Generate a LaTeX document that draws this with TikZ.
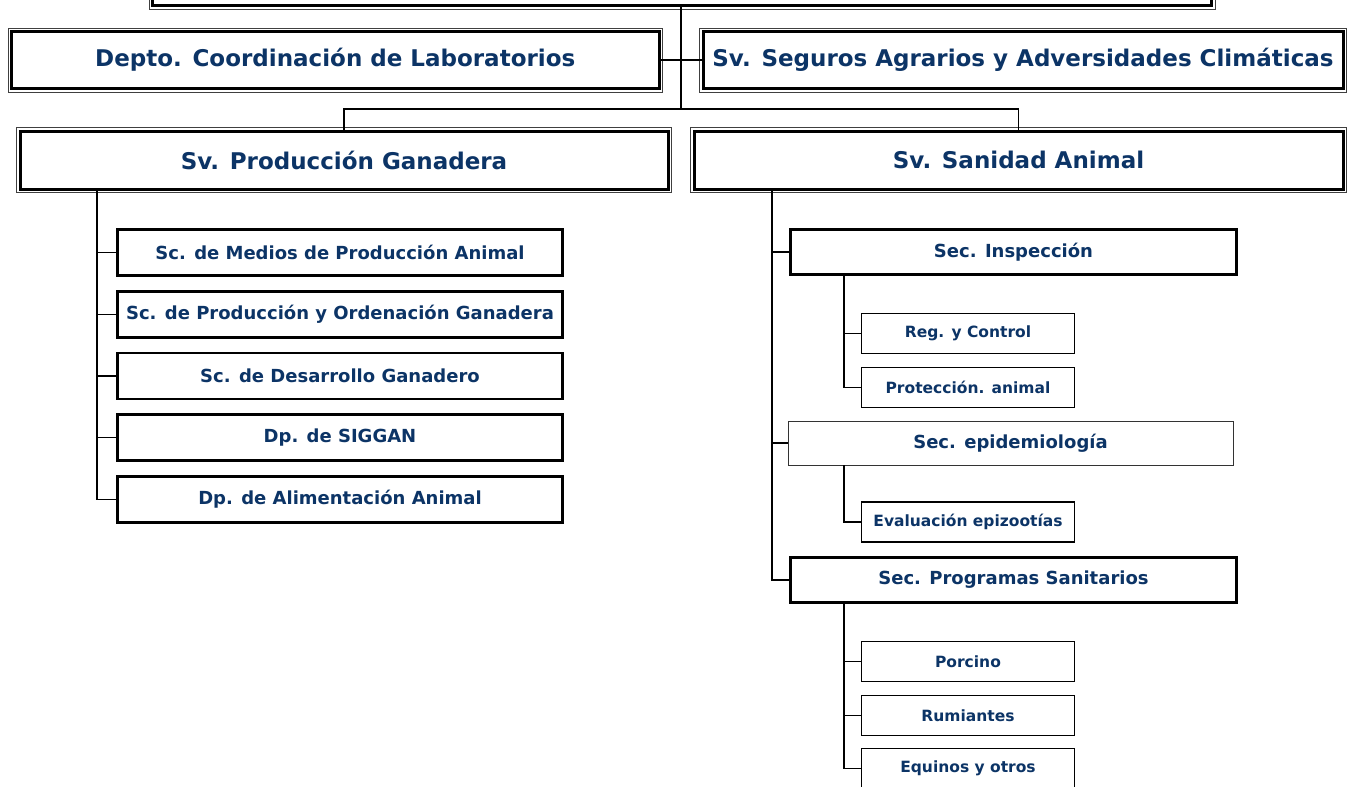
\documentclass[tikz,border=0pt]{standalone}
\usepackage{fontspec}
\setmainfont{DejaVu Sans}
\definecolor{navy}{RGB}{12,52,102}
\begin{document}
\begin{tikzpicture}[x=1pt,y=-1pt,
  base/.style={draw=black, fill=white, text=navy, font=\bfseries, inner sep=0pt, outer sep=0pt, anchor=center},
  frame/.style={append after command={\pgfextra{\draw[line width=0.8pt, black!75]
      ([xshift=-3.5pt,yshift=3.5pt]\tikzlastnode.north west) rectangle
      ([xshift=3.5pt,yshift=-3.5pt]\tikzlastnode.south east);}}},
  topbox/.style={base, line width=3pt, frame, font=\bfseries\fontsize{23}{27}\selectfont},
  midbox/.style={base, line width=2.6pt, font=\bfseries\fontsize{18}{22}\selectfont, minimum width=445pt, minimum height=46pt},
  secbox/.style={base, line width=2.6pt, font=\bfseries\fontsize{18}{22}\selectfont, minimum width=446pt, minimum height=45pt},
  secthin/.style={base, line width=0.9pt, draw=black!80, font=\bfseries\fontsize{18}{22}\selectfont, minimum width=445pt, minimum height=44pt},
  smallbox/.style={base, line width=1.5pt, font=\bfseries\fontsize{15.5}{19}\selectfont, minimum width=213pt, minimum height=40pt},
  conn/.style={draw=black, line width=1.4pt}
]
\useasboundingbox (0,0) rectangle (1353,787);
% top-level boxes
\node[topbox, minimum width=1059pt, minimum height=66pt] (top) at (682,-27.5) {};
\node[topbox, minimum width=647.5pt, minimum height=57pt] (lab) at (335.25,60) {Depto. Coordinación de Laboratorios};
\node[topbox, minimum width=640pt, minimum height=57pt] (seg) at (1023,60) {Sv. Seguros Agrarios y Adversidades Climáticas};
\node[topbox, minimum width=648pt, minimum height=58pt] (prod) at (344,160) {Sv. Producción Ganadera};
\node[topbox, minimum width=649pt, minimum height=58pt] (san) at (1018.5,160) {Sv. Sanidad Animal};
% left branch
\node[midbox] (m1) at (340,252.5) {Sc. de Medios de Producción Animal};
\node[midbox] (m2) at (340,314.5) {Sc. de Producción y Ordenación Ganadera};
\node[midbox] (m3) at (340,376) {Sc. de Desarrollo Ganadero};
\node[midbox] (m4) at (340,437.5) {Dp. de SIGGAN};
\node[midbox] (m5) at (340,499.5) {Dp. de Alimentación Animal};
% right branch
\node[secbox] (insp) at (1013.5,252) {Sec. Inspección};
\node[smallbox] (reg) at (968,333.5) {Reg. y Control};
\node[smallbox] (prot) at (968,387.5) {Protección. animal};
\node[secthin] (epi) at (1010.5,443) {Sec. epidemiología};
\node[smallbox] (eva) at (968,522) {Evaluación epizootías};
\node[secbox] (prog) at (1013.5,580) {Sec. Programas Sanitarios};
\node[smallbox] (porc) at (968,661.5) {Porcino};
\node[smallbox] (rum) at (968,715.5) {Rumiantes};
\node[smallbox] (equ) at (968,768.5) {Equinos y otros};
% coordinates
\coordinate (hub) at (681,109);
\coordinate (hubL) at (prod.north |- hub);
\coordinate (hubR) at (san.north |- hub);
\coordinate (vL) at (97,0);
\coordinate (vR) at (772,0);
\coordinate (vS) at (844,0);
% connectors
\draw[conn] (top.south -| hub) -- (hub);
\draw[conn] (lab.east) -- (seg.west);
\draw[conn] (prod.north) -- (hubL) -- (hubR) -- (san.north);
\draw[conn] (vL |- prod.south) -- (vL |- m5.west) -- (m5.west);
\foreach \n in {m1,m2,m3,m4} \draw[conn] (vL |- \n.west) -- (\n.west);
\draw[conn] (vR |- san.south) -- (vR |- prog.west) -- (prog.west);
\foreach \n in {insp,epi} \draw[conn] (vR |- \n.west) -- (\n.west);
\draw[conn] (vS |- insp.south) -- (vS |- prot.west) -- (prot.west);
\draw[conn] (vS |- reg.west) -- (reg.west);
\draw[conn] (vS |- epi.south) -- (vS |- eva.west) -- (eva.west);
\draw[conn] (vS |- prog.south) -- (vS |- equ.west) -- (equ.west);
\foreach \n in {porc,rum} \draw[conn] (vS |- \n.west) -- (\n.west);
\end{tikzpicture}
\end{document}
